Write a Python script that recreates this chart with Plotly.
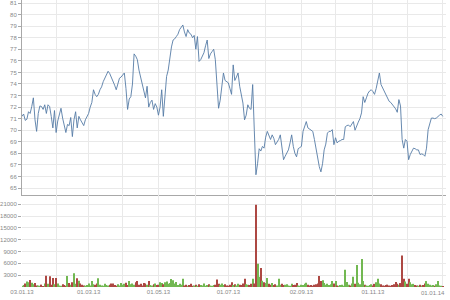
import pandas as pd
import plotly.graph_objects as go

# ---- data -------------------------------------------------------------
dates = pd.bdate_range("2013-01-03", "2014-01-01")  # trading days (weekdays)

price = [
    71.2, 71.4, 70.85, 70.95, 71.6, 71.45, 72.05, 72.8, 70.9, 69.9,
    71.45, 72.1, 72.05, 71.8, 72.2, 71.45, 72.2, 72.05, 71.2, 70.2,
    71.7, 69.8, 70.8, 71.3, 71.9, 71.05, 70.5, 69.8, 70.5, 70.4,
    71.1, 69.45, 70.9, 71.6, 70.2, 71.2, 70.9, 70.6, 70.4, 70.9,
    71.2, 71.45, 72.0, 72.4, 73.5, 73.1, 72.9, 73.1, 73.5, 73.75,
    74.2, 74.5, 74.8, 75.1, 74.9, 74.6, 74.2, 73.9, 73.5, 74.0,
    74.5, 74.6, 74.8, 74.95, 73.6, 71.8, 72.7, 72.9, 74.0, 76.6,
    76.4, 76.1, 75.2, 74.6, 74.05, 73.5, 72.8, 73.8, 72.0, 72.4,
    72.6, 71.8, 72.3, 72.0, 71.3, 72.0, 73.5, 71.2, 73.1, 74.65,
    75.2, 76.3, 77.2, 77.8, 77.9, 78.1, 78.3, 78.7, 78.9, 79.1,
    78.5, 78.1, 78.7, 78.4, 78.3, 78.0, 78.2, 77.0, 78.1, 75.95,
    76.1, 76.4, 76.7, 77.3, 77.8, 76.2, 76.6, 76.8, 77.0, 76.1,
    73.8, 71.9, 72.6, 73.8, 74.95, 74.3, 74.2, 74.1, 73.6, 73.1,
    75.65, 74.3, 74.6, 74.95, 73.8, 72.9, 72.35, 70.9, 71.3, 72.2,
    71.9, 71.8, 73.95, 70.0, 66.15, 67.1, 68.4, 68.2, 68.6, 68.45,
    69.4, 69.9, 69.5, 69.2, 69.6, 69.3, 68.75, 69.0, 69.2, 69.6,
    68.35, 67.45, 67.75, 68.0, 68.3, 68.9, 69.6, 68.6, 68.0, 67.7,
    68.4, 68.5, 68.6, 69.9, 70.3, 70.75, 70.2, 70.1, 70.0, 69.9,
    69.2, 68.35, 67.5, 66.85, 66.4, 67.1, 68.3, 68.8, 69.75, 69.9,
    69.9, 70.05, 68.75, 69.35, 68.9, 69.05, 69.1, 69.2, 69.2, 70.3,
    70.4, 70.45, 70.3, 70.5, 70.75, 70.0, 70.45, 70.7, 71.0, 71.5,
    72.9, 72.4, 72.8, 73.2, 73.4, 73.5, 73.35, 73.1, 73.6, 74.3,
    74.95, 73.95, 73.65, 73.4, 73.2, 72.8, 72.5, 72.4, 72.2, 72.1,
    71.85, 71.55, 72.65, 72.1, 69.2, 68.45, 69.2, 69.05, 67.45, 67.9,
    68.2, 68.45, 68.4, 68.3, 68.3, 67.9, 67.95, 67.9, 67.75, 68.45,
    70.05, 70.6, 71.05, 71.05, 71.0, 71.05, 71.2, 71.3, 71.4, 71.2,
]

volume = [
    300, 500, 900, 1400, 1200, 1800, 1100, 700, 1000, 400,
    350, 300, 600, 250, 900, 2850, 800, 2700, 600, 2300,
    700, 2300, 900, 400, 300, 700, 500, 300, 2800, 1000,
    600, 1200, 3500, 800, 2200, 1600, 900, 600, 400, 300,
    500, 900, 400, 1500, 700, 600, 900, 2200, 600, 400,
    300, 800, 500, 400, 600, 900, 900, 500, 300, 700,
    400, 1000, 600, 800, 1100, 500, 1500, 700, 900, 600,
    1200, 1500, 600, 800, 400, 1000, 900, 600, 1500, 500,
    400, 700, 900, 500, 600, 1200, 1000, 700, 1200, 1400,
    800, 1000, 2000, 1700, 900, 1300, 500, 800, 600, 2100,
    400, 600, 300, 500, 800, 300, 400, 600, 300, 700,
    500, 400, 900, 300, 500, 700, 400, 300, 500, 600,
    1900, 800, 600, 900, 500, 700, 400, 300, 600, 1200,
    500, 700, 400, 800, 600, 500, 900, 2100, 700, 600,
    500, 800, 2100, 900, 20900, 5900, 2600, 4800, 1600, 1200,
    1000, 2300, 800, 600, 1000, 500, 700, 400, 2100, 600,
    800, 500, 600, 700, 400, 300, 800, 500, 600, 1000,
    400, 300, 600, 500, 800, 1100, 600, 400, 500, 300,
    600, 700, 900, 2800, 1500, 1700, 1000, 600, 800, 500,
    700, 1500, 900, 1500, 400, 300, 500, 600, 300, 4400,
    1300, 600, 400, 900, 2600, 800, 5600, 1100, 700, 7100,
    1500, 600, 400, 300, 500, 700, 400, 800, 1200, 2100,
    900, 700, 400, 300, 500, 600, 400, 300, 500, 700,
    1300, 800, 600, 1000, 8000, 2100, 1400, 800, 2100, 1200,
    700, 800, 500, 400, 300, 600, 400, 500, 900, 1500,
    800, 600, 400, 500, 300, 700, 1500, 400, 300, 200,
]

price_ticks = list(range(65, 82))
volume_ticks = [3000, 6000, 9000, 12000, 15000, 18000, 21000]

# ---- derived ----------------------------------------------------------
idx = list(range(len(dates)))
months = pd.Series(idx, index=dates).groupby([dates.year, dates.month]).first()
month_idx = list(months.values)
month_text = [dates[i].strftime("%d.%m.%y") if k % 2 == 0 else "" for k, i in enumerate(month_idx)]
last_label = month_text[-1]
month_text[-1] = ""

GREEN = "#72b852"
RED = "#ad4843"
bar_colors = [GREEN] + [GREEN if price[i] >= price[i - 1] else RED for i in range(1, len(price))]

FONT = dict(family="Liberation Sans, Arial, sans-serif", size=6, color="#888888")
GRID = "#e9e9e9"
AXIS = "#a8a8a8"
XR = [0, 261]
SPLIT = 0.3206

fig = go.Figure()
fig.add_trace(go.Scatter(x=idx, y=price, mode="lines",
                         line=dict(color="#567ca6", width=0.9), xaxis="x", yaxis="y",
                         showlegend=False, hoverinfo="skip"))
fig.add_trace(go.Bar(x=idx, y=volume, marker=dict(color=bar_colors, line=dict(width=0)),
                     xaxis="x2", yaxis="y2", showlegend=False, hoverinfo="skip"))

fig.update_layout(
    width=450, height=300,
    margin=dict(l=20, r=4, t=0, b=13, pad=0),
    paper_bgcolor="white", plot_bgcolor="white",
    bargap=0.35,
    font=FONT,
    xaxis=dict(domain=[0, 1], anchor="y", range=XR, tickmode="array", tickvals=month_idx,
               showticklabels=False, ticks="", showgrid=True, gridcolor=GRID, gridwidth=1,
               showline=True, linecolor=AXIS, linewidth=1, zeroline=False),
    yaxis=dict(domain=[SPLIT, 1], anchor="x", range=[64.4, 81.26], tickmode="array",
               tickvals=price_ticks, ticks="outside", ticklen=3, tickcolor=AXIS,
               showgrid=True, gridcolor=GRID, showline=True, linecolor=AXIS, linewidth=1,
               zeroline=False, tickfont=FONT),
    xaxis2=dict(domain=[0, 1], anchor="y2", range=XR, tickmode="array", tickvals=month_idx,
                ticktext=month_text, ticks="", showgrid=True, gridcolor=GRID,
                showline=False, zeroline=False, tickfont=FONT),
    yaxis2=dict(domain=[0, SPLIT], anchor="x2", range=[0, 23360], tickmode="array",
                tickvals=volume_ticks, ticktext=[str(v) for v in volume_ticks],
                ticks="outside", ticklen=3, tickcolor=AXIS,
                showgrid=True, gridcolor=GRID, showline=False, zeroline=False, tickfont=FONT),
)

fig.add_annotation(text=last_label, xref="x2", x=month_idx[-1], yref="paper", y=0,
                   xanchor="right", yanchor="top", xshift=4, yshift=-1,
                   showarrow=False, font=FONT)

fig.write_html("out.html")
